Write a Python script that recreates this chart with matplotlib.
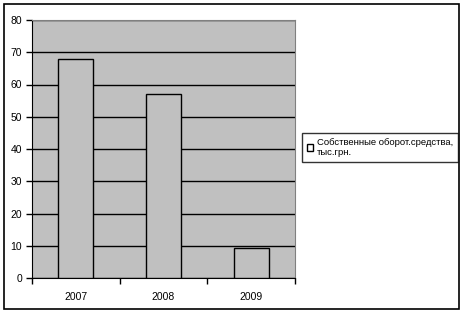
import matplotlib
matplotlib.use('Agg')
import matplotlib.pyplot as plt
from matplotlib.patches import Rectangle

# Данные диаграммы
years = ['2007', '2008', '2009']
values = [68, 57, 9.3]
series_name = 'Собственные оборот.средства,\nтыс.грн.'
y_ticks = [0, 10, 20, 30, 40, 50, 60, 70, 80]

plt.rcParams['font.family'] = ['Liberation Sans', 'DejaVu Sans']

fig = plt.figure(figsize=(4.64, 3.13), dpi=100)
fig.patch.set_facecolor('white')

# Внешняя рамка диаграммы
fig.patches.append(Rectangle((4 / 464, 4 / 313), 455 / 464, 305 / 313,
                             transform=fig.transFigure, fill=False,
                             edgecolor='black', linewidth=1.2))

ax = fig.add_axes([32 / 464, 35 / 313, 263 / 464, 258 / 313])
ax.set_facecolor('#c0c0c0')

x = range(len(years))
ax.bar(x, values, width=0.4, color='#c0c0c0', edgecolor='black',
       linewidth=1, zorder=3, label=series_name)

ax.set_ylim(0, 80)
ax.set_xlim(-0.5, len(years) - 0.5)
ax.set_yticks(y_ticks)
ax.yaxis.grid(True, color='black', linewidth=1, zorder=0)
ax.set_axisbelow(True)

ax.set_xticks(list(x))
ax.set_xticklabels(years)
ax.set_xticks([-0.5, 0.5, 1.5, 2.5], minor=True)
ax.tick_params(axis='x', which='major', length=0, pad=10, labelsize=7.5)
ax.tick_params(axis='x', which='minor', length=4, direction='out', width=1)
ax.tick_params(axis='y', length=4, direction='out', width=1, labelsize=7.5, pad=3)

ax.spines['left'].set_color('black')
ax.spines['bottom'].set_color('black')
ax.spines['top'].set_color('#808080')
ax.spines['right'].set_color('#808080')

leg = fig.legend(loc='upper left', bbox_to_anchor=(302 / 464, 1 - 133 / 313),
                 fontsize=6.8, frameon=True, fancybox=False,
                 handlelength=0.7, handleheight=0.7, handletextpad=0.4,
                 borderpad=0.5, borderaxespad=0)
leg.get_frame().set_edgecolor('black')
leg.get_frame().set_linewidth(1)
for h in leg.legend_handles:
    h.set_facecolor('white')

fig.savefig('out.png', dpi=100)
